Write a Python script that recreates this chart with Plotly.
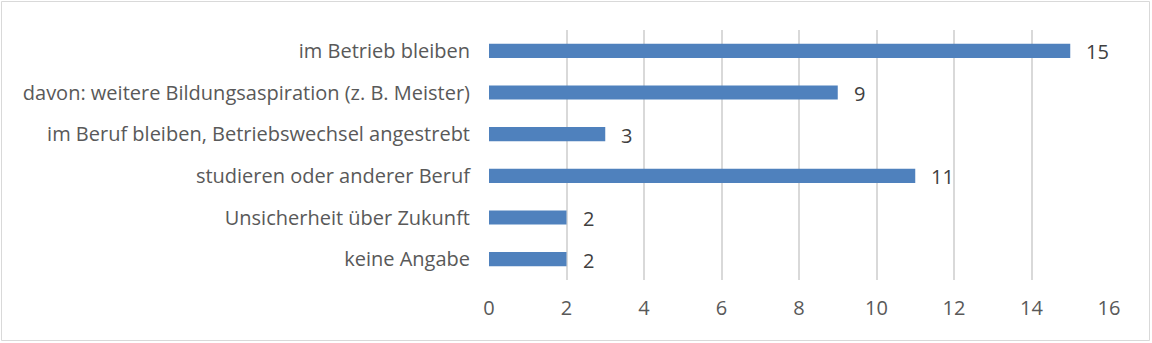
import plotly.graph_objects as go

categories = [
    "im Betrieb bleiben",
    "davon: weitere Bildungsaspiration (z. B. Meister)",
    "im Beruf bleiben, Betriebswechsel angestrebt",
    "studieren oder anderer Beruf",
    "Unsicherheit über Zukunft",
    "keine Angabe",
]
values = [15, 9, 3, 11, 2, 2]
x_ticks = [0, 2, 4, 6, 8, 10, 12, 14, 16]

W, H = 1152, 343
L, R, T, B = 489, 43, 30, 63
pw, ph = W - L - R, H - T - B
FONT = "Open Sans"
FS = 20

fig = go.Figure()
fig.add_trace(go.Bar(
    x=values, y=categories, orientation="h",
    marker=dict(color="#4F81BD", line=dict(width=0)),
    hoverinfo="skip",
))
for c, v in zip(categories, values):
    fig.add_annotation(x=v, y=c, text=str(v), showarrow=False, xanchor="left",
                       xshift=14, yshift=-1,
                       font=dict(family=FONT, size=FS, color="#404040"))

def px(xp):
    return (xp - L) / pw

def py(yp):
    return (H - B - yp) / ph

fig.add_shape(type="rect", xref="paper", yref="paper",
              x0=px(1.5), x1=px(1149.5), y0=py(340.5), y1=py(1.5),
              line=dict(color="#D9D9D9", width=1), fillcolor="rgba(0,0,0,0)", layer="below")

fig.update_layout(
    width=W, height=H,
    margin=dict(l=L, r=R, t=T, b=B, pad=0),
    paper_bgcolor="white", plot_bgcolor="white",
    bargap=0.66, showlegend=False,
    font=dict(family=FONT, size=FS, color="#595959"),
    xaxis=dict(range=[0, 16], tickvals=x_ticks, showgrid=True, gridcolor="#D9D9D9",
               gridwidth=1.5, zeroline=False, showline=False, ticks="",
               ticklabelstandoff=14, fixedrange=True,
               tickfont=dict(family=FONT, size=FS, color="#595959")),
    yaxis=dict(autorange="reversed", showgrid=False, zeroline=False, showline=False,
               ticks="", ticklabelstandoff=18, fixedrange=True,
               tickfont=dict(family=FONT, size=FS, color="#595959")),
)

fig.write_html("out.html")
